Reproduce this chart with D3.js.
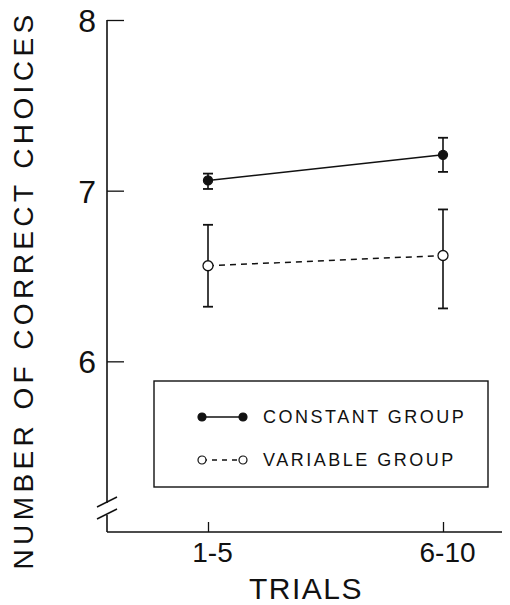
<!DOCTYPE html>
<html>
<head>
<meta charset="utf-8">
<script src="https://cdn.jsdelivr.net/npm/d3@7"></script>
<style>
  body { margin: 0; background: #fff; }
  svg { font-family: "Liberation Sans", Arial, sans-serif; }
</style>
</head>
<body>
<div id="chart"></div>
<script>
// data
const trials = ["1-5", "6-10"];
const constantMean = [7.06, 7.21];
const constantLow = [7.01, 7.11];
const constantHigh = [7.10, 7.31];
const variableMean = [6.56, 6.62];
const variableLow = [6.32, 6.31];
const variableHigh = [6.80, 6.89];
const yTicks = [6, 7, 8];
const legendLabels = ["CONSTANT GROUP", "VARIABLE GROUP"];

const width = 510, height = 605;

const svg = d3.select("#chart")
    .append("svg")
    .attr("width", width)
    .attr("height", height);

const x = d3.scalePoint().domain(trials).range([208, 443]);
const y = d3.scaleLinear().domain([5, 8]).range([532, 20]);
const axisX = 107;

// y axis (ticks point inward)
const yAxis = svg.append("g")
    .attr("transform", `translate(${axisX},0)`)
    .call(d3.axisLeft(y).tickValues(yTicks).tickSize(-17).tickPadding(11).tickFormat(d3.format("d")));
yAxis.select(".domain").remove();
yAxis.selectAll(".tick line").attr("stroke", "#111").attr("stroke-width", 1.3);
yAxis.selectAll(".tick text")
    .attr("fill", "#111")
    .style("font-size", "32px")
    .attr("dy", "0.36em");

// y axis line with a break
svg.append("line")
    .attr("x1", axisX).attr("x2", axisX)
    .attr("y1", y(8)).attr("y2", 503)
    .attr("stroke", "#111").attr("stroke-width", 1.6);
svg.append("line")
    .attr("x1", axisX).attr("x2", axisX)
    .attr("y1", 515).attr("y2", y(5))
    .attr("stroke", "#111").attr("stroke-width", 1.6);
[0, 12].forEach(function(off) {
    svg.append("line")
        .attr("x1", axisX - 10).attr("y1", 507 + off)
        .attr("x2", axisX + 10).attr("y2", 497 + off)
        .attr("stroke", "#111").attr("stroke-width", 1.5);
});

// x axis
const xAxis = svg.append("g")
    .attr("transform", `translate(0,${y(5)})`)
    .call(d3.axisBottom(x).tickSize(-10).tickPadding(6));
xAxis.select(".domain").remove();
xAxis.selectAll(".tick line").attr("stroke", "#111").attr("stroke-width", 1.3);
xAxis.selectAll(".tick text")
    .attr("fill", "#111")
    .attr("dx", 4)
    .attr("dy", "0.85em")
    .style("font-size", "28px");
svg.append("line")
    .attr("x1", axisX).attr("x2", 502)
    .attr("y1", y(5)).attr("y2", y(5))
    .attr("stroke", "#111").attr("stroke-width", 1.6);

// axis titles
svg.append("text")
    .attr("transform", "translate(33,290) rotate(-90)")
    .attr("text-anchor", "middle")
    .attr("fill", "#111")
    .style("font-size", "28px")
    .style("letter-spacing", "4.4px")
    .text("NUMBER OF CORRECT CHOICES");

svg.append("text")
    .attr("x", 306)
    .attr("y", 599)
    .attr("text-anchor", "middle")
    .attr("fill", "#111")
    .style("font-size", "30px")
    .style("letter-spacing", "1.5px")
    .text("TRIALS");

// series
const line = d3.line()
    .x(function(d) { return x(d[0]); })
    .y(function(d) { return y(d[1]); });

function drawSeries(mean, low, high, filled, dashed) {
    const pts = trials.map(function(t, i) { return [t, mean[i], low[i], high[i]]; });
    const g = svg.append("g");

    g.append("path")
        .datum(pts)
        .attr("d", line)
        .attr("fill", "none")
        .attr("stroke", "#111")
        .attr("stroke-width", 1.5)
        .attr("stroke-dasharray", dashed ? "6,5" : null);

    g.selectAll(".err")
        .data(pts)
        .join("line")
        .attr("x1", function(d) { return x(d[0]); })
        .attr("x2", function(d) { return x(d[0]); })
        .attr("y1", function(d) { return y(d[2]); })
        .attr("y2", function(d) { return y(d[3]); })
        .attr("stroke", "#111")
        .attr("stroke-width", 1.6);

    [2, 3].forEach(function(k) {
        g.selectAll(".cap" + k)
            .data(pts)
            .join("line")
            .attr("x1", function(d) { return x(d[0]) - 5; })
            .attr("x2", function(d) { return x(d[0]) + 5; })
            .attr("y1", function(d) { return y(d[k]); })
            .attr("y2", function(d) { return y(d[k]); })
            .attr("stroke", "#111")
            .attr("stroke-width", 1.8);
    });

    g.selectAll("circle")
        .data(pts)
        .join("circle")
        .attr("cx", function(d) { return x(d[0]); })
        .attr("cy", function(d) { return y(d[1]); })
        .attr("r", filled ? 4.5 : 5)
        .attr("fill", filled ? "#111" : "#fff")
        .attr("stroke", "#111")
        .attr("stroke-width", 1.3);
}

drawSeries(constantMean, constantLow, constantHigh, true, false);
drawSeries(variableMean, variableLow, variableHigh, false, true);

// legend
const legend = svg.append("g");
legend.append("rect")
    .attr("x", 154).attr("y", 381)
    .attr("width", 334).attr("height", 106)
    .attr("fill", "#fff")
    .attr("stroke", "#111")
    .attr("stroke-width", 1.4);

const legendRows = legend.selectAll(".row")
    .data(legendLabels)
    .join("g")
    .attr("transform", function(d, i) { return `translate(0,${417 + i * 43})`; });

legendRows.append("line")
    .attr("x1", 202).attr("x2", 243)
    .attr("stroke", "#111")
    .attr("stroke-width", 1.4)
    .attr("stroke-dasharray", function(d, i) { return i === 1 ? "5,5" : null; });

[202, 243].forEach(function(cx) {
    legendRows.append("circle")
        .attr("cx", cx)
        .attr("r", 4)
        .attr("fill", function(d, i) { return i === 0 ? "#111" : "#fff"; })
        .attr("stroke", "#111")
        .attr("stroke-width", 1.2);
});

legendRows.append("text")
    .attr("x", 263)
    .attr("dy", "0.36em")
    .attr("fill", "#111")
    .style("font-size", "18px")
    .style("letter-spacing", "2.5px")
    .text(function(d) { return d; });
</script>
</body>
</html>
